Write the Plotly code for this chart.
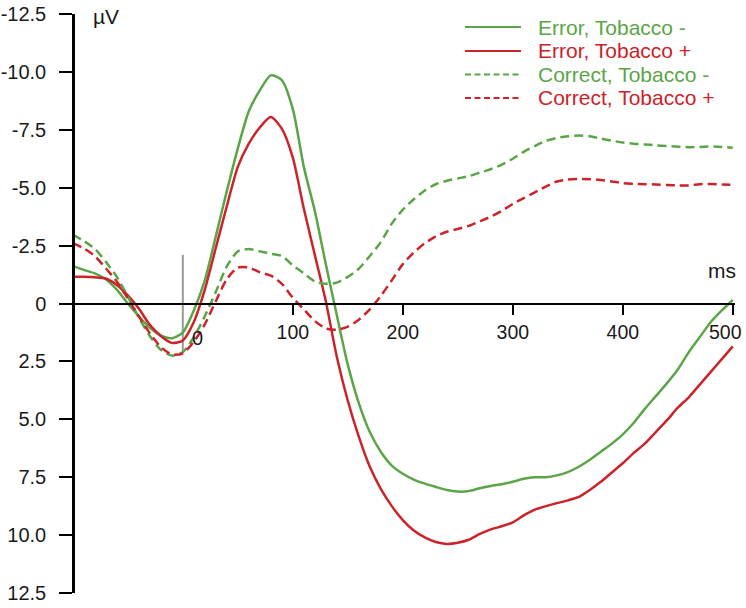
import plotly.graph_objects as go

# Time axis (ms)
time_ms = list(range(-100, 501, 10))

# Error, Tobacco -  (green solid)
error_tob_minus = [-1.62, -1.45, -1.3, -1.05, -0.6, 0.0, 0.55, 1.05, 1.38, 1.5,
                   1.25, 0.3, -1.0, -2.9, -4.85, -6.7, -8.3, -9.2, -9.85, -9.65,
                   -8.4, -5.9, -4.0, -1.7, 0.5, 2.64, 4.3, 5.55, 6.4, 7.0,
                   7.35, 7.6, 7.78, 7.92, 8.05, 8.12, 8.1, 7.98, 7.88, 7.8,
                   7.7, 7.57, 7.5, 7.5, 7.42, 7.28, 7.05, 6.75, 6.4, 6.05,
                   5.65, 5.15, 4.55, 4.0, 3.45, 2.85, 2.1, 1.45, 0.8, 0.3,
                   -0.15]

# Error, Tobacco +  (red solid)
error_tob_plus = [-1.15, -1.15, -1.13, -1.08, -0.8, -0.35, 0.22, 0.92, 1.4, 1.7,
                  1.6, 0.8, -0.6, -2.4, -4.2, -5.9, -6.9, -7.6, -8.05, -7.55,
                  -6.3, -4.1, -2.1, -0.1, 2.3, 4.2, 5.75, 7.05, 8.0, 8.75,
                  9.35, 9.8, 10.1, 10.3, 10.38, 10.33, 10.2, 9.95, 9.75, 9.62,
                  9.45, 9.15, 8.9, 8.75, 8.62, 8.5, 8.35, 8.05, 7.7, 7.3,
                  6.9, 6.45, 6.05, 5.55, 5.05, 4.5, 4.05, 3.5, 2.95, 2.4,
                  1.85]

# Correct, Tobacco -  (green dashed)
correct_tob_minus = [-2.97, -2.7, -2.36, -1.8, -1.15, -0.3, 0.6, 1.4, 2.0, 2.25,
                     2.1, 1.45, 0.55, -0.5, -1.6, -2.25, -2.35, -2.25, -2.15, -2.05,
                     -1.65, -1.3, -0.95, -0.85, -0.9, -1.15, -1.5, -2.05, -2.65, -3.45,
                     -4.05, -4.5, -4.88, -5.15, -5.3, -5.4, -5.5, -5.65, -5.8, -6.0,
                     -6.25, -6.55, -6.8, -7.02, -7.15, -7.22, -7.25, -7.22, -7.12, -7.03,
                     -6.95, -6.9, -6.87, -6.83, -6.8, -6.77, -6.75, -6.76, -6.78, -6.76,
                     -6.72]

# Correct, Tobacco +  (red dashed)
correct_tob_plus = [-2.6, -2.38, -2.05, -1.52, -0.95, -0.22, 0.55, 1.28, 1.88, 2.2,
                    2.15, 1.65, 0.9, -0.1, -1.05, -1.55, -1.55, -1.35, -1.2, -0.85,
                    -0.25, 0.25, 0.75, 1.08, 1.13, 1.0, 0.7, 0.25, -0.33, -1.0,
                    -1.7, -2.2, -2.6, -2.9, -3.1, -3.22, -3.35, -3.55, -3.75, -4.0,
                    -4.3, -4.55, -4.8, -5.05, -5.27, -5.35, -5.38, -5.37, -5.33, -5.27,
                    -5.2, -5.17, -5.15, -5.14, -5.12, -5.1, -5.1, -5.15, -5.16, -5.14,
                    -5.12]

series_names = ["Error, Tobacco -", "Error, Tobacco +",
                "Correct, Tobacco -", "Correct, Tobacco +"]

y_tick_vals = [-12.5, -10.0, -7.5, -5.0, -2.5, 0, 2.5, 5.0, 7.5, 10.0, 12.5]
y_tick_text = ["-12.5", "-10.0", "-7.5", "-5.0", "-2.5", "0", "2.5", "5.0", "7.5", "10.0", "12.5"]
x_tick_vals = [100, 200, 300, 400, 500]
x_tick_text = ["100", "200", "300", "400", ""]   # "500" drawn as annotation (kept inside page)

GREEN = "#5ba548"
RED = "#cc2329"
FONT = "Liberation Sans, Arial, sans-serif"
FS = 21
TXT = "#1a1a1a"

W, H = 746, 608
ML, MR, MT, MB = 75, 11, 14, 15
PW, PH = W - ML - MR, H - MT - MB


def px_x(px):
    return (px - ML) / PW


def px_y(py):
    return 1 - (py - MT) / PH


fig = go.Figure()
styles = [
    (error_tob_minus, GREEN, "solid", "solid"),
    (error_tob_plus, RED, "solid", "solid"),
    (correct_tob_minus, GREEN, "9px,5px", "6px,3.5px"),
    (correct_tob_plus, RED, "9px,5px", "6px,3.5px"),
]
legend_rows = [27, 51, 74.5, 98]
for name, (vals, col, dash, ldash), row in zip(series_names, styles, legend_rows):
    fig.add_trace(go.Scatter(
        x=time_ms, y=vals, mode="lines", name=name, showlegend=False,
        line=dict(color=col, width=2.5, dash=dash, shape="spline", smoothing=0.7),
    ))
    # hand-built legend entry (sample line + coloured label)
    fig.add_shape(type="line", xref="paper", yref="paper",
                  x0=px_x(465), x1=px_x(521), y0=px_y(row), y1=px_y(row),
                  line=dict(color=col, width=2.2, dash=ldash))
    fig.add_annotation(xref="paper", yref="paper", x=px_x(536), y=px_y(row),
                       xanchor="left", yanchor="middle", showarrow=False,
                       text=name, font=dict(size=FS, family=FONT, color=col))

# stimulus-onset marker at 0 ms
fig.add_shape(type="line", x0=0, x1=0, y0=-2.1, y1=2.05, xref="x", yref="y",
              line=dict(color="#999999", width=2), layer="below")

fig.add_annotation(x=13, y=1.47, text="0", showarrow=False, xref="x", yref="y",
                   font=dict(size=20, family=FONT, color=TXT))
fig.add_annotation(x=500, y=1.21, text="500", showarrow=False, xref="x", yref="y",
                   xanchor="right", xshift=11, yanchor="middle",
                   font=dict(size=19.5, family=FONT, color=TXT))
fig.add_annotation(x=490, y=-1.42, text="ms", showarrow=False, xref="x", yref="y",
                   font=dict(size=FS, family=FONT, color=TXT))
fig.add_annotation(x=-69.5, y=-12.4, text="µV", showarrow=False, xref="x", yref="y",
                   font=dict(size=FS, family=FONT, color=TXT))

fig.update_layout(
    width=W, height=H,
    margin=dict(l=ML, r=MR, t=MT, b=MB),
    paper_bgcolor="white", plot_bgcolor="white",
    font=dict(family=FONT, size=FS, color=TXT),
    showlegend=False,
    xaxis=dict(range=[-98, 502], anchor="free", position=0.5,
               showline=True, linecolor="black", linewidth=2,
               ticks="outside", ticklen=10, tickwidth=2, tickcolor="black",
               tickvals=x_tick_vals, ticktext=x_tick_text,
               tickfont=dict(size=19.5, family=FONT, color=TXT),
               showgrid=False, zeroline=False, ticklabelstandoff=1,
               ticklabeloverflow="allow", automargin=False),
    xaxis2=dict(range=[-98, 502], overlaying="x", anchor="free", position=0.5,
                showline=False, ticks="inside", ticklen=10, tickwidth=2,
                tickcolor="black", tickvals=x_tick_vals, showticklabels=False,
                showgrid=False, zeroline=False, automargin=False),
    yaxis=dict(range=[12.5, -12.5], showline=True, linecolor="black", linewidth=2.5,
               ticks="outside", ticklen=13, tickwidth=2, tickcolor="black",
               tickvals=y_tick_vals, ticktext=y_tick_text,
               tickfont=dict(size=20, family=FONT, color=TXT),
               showgrid=False, zeroline=False, ticklabelstandoff=9,
               ticklabeloverflow="allow", automargin=False),
)

fig.write_html("out.html", config={"displayModeBar": False},
               post_script="document.body.style.margin='0px';")
